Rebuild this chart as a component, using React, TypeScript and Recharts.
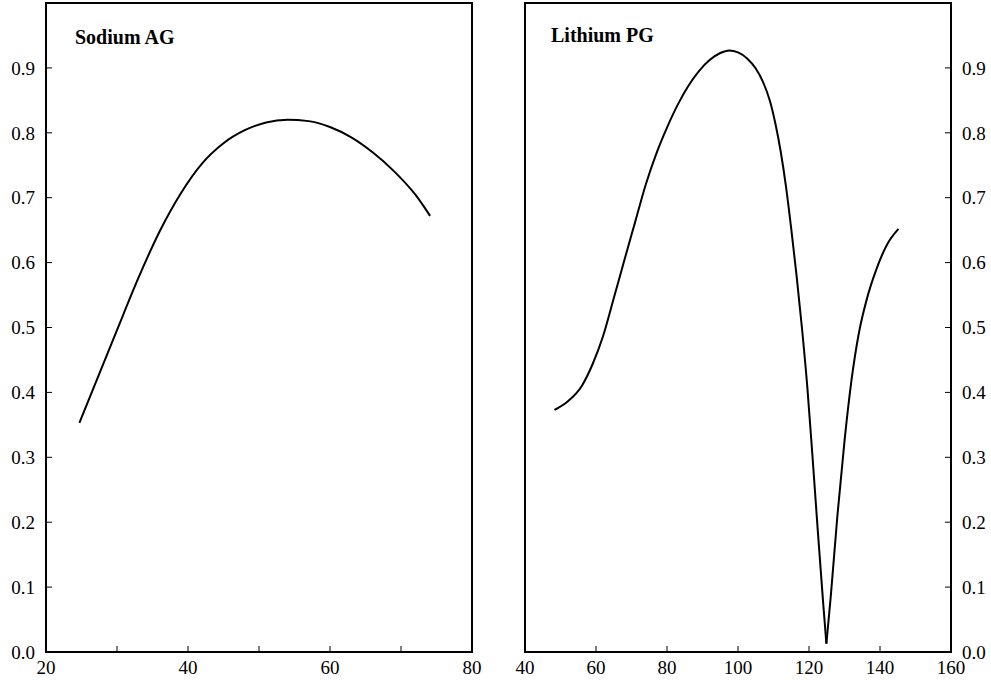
import React from 'react';
import { LineChart, Line, XAxis, YAxis, ReferenceArea } from 'recharts';

const sodiumX = [24.7, 27, 30, 33, 36, 39, 42, 45, 48, 51, 54, 57, 60, 63, 66, 69, 72, 74.1];
const sodiumY = [0.353, 0.415, 0.496, 0.576, 0.648, 0.707, 0.753, 0.784, 0.804, 0.816, 0.820, 0.818, 0.809, 0.793, 0.770, 0.741, 0.705, 0.672];

const lithiumX = [48.3, 52, 56, 59, 62, 65, 68, 71, 74, 77, 80, 83, 86, 89, 92, 95, 97.5, 100, 102.5, 105, 107, 109, 110.5, 112, 113.5, 115, 116.5, 118, 119.5, 121, 122.5, 124, 124.9, 126.2, 128, 130, 132, 134, 136.5, 139, 142, 145.2];
const lithiumY = [0.373, 0.386, 0.41, 0.443, 0.487, 0.545, 0.604, 0.662, 0.72, 0.768, 0.808, 0.843, 0.872, 0.895, 0.912, 0.923, 0.927, 0.924, 0.915, 0.899, 0.879, 0.849, 0.815, 0.772, 0.718, 0.652, 0.580, 0.500, 0.410, 0.300, 0.185, 0.075, 0.013, 0.09, 0.21, 0.325, 0.42, 0.49, 0.548, 0.59, 0.628, 0.652];

const sodiumXTicks = [20, 30, 40, 50, 60, 70, 80];
const sodiumXLabels = [20, 40, 60, 80];
const lithiumXTicks = [40, 60, 80, 100, 120, 140, 160];
const yTicks = [0, 0.1, 0.2, 0.3, 0.4, 0.5, 0.6, 0.7, 0.8, 0.9];
const titles = ['Sodium AG', 'Lithium PG'];

const sodiumData = sodiumX.map((x, i) => ({ x, y: sodiumY[i] }));
const lithiumData = lithiumX.map((x, i) => ({ x, y: lithiumY[i] }));
const minIdx = lithiumY.indexOf(Math.min(...lithiumY));
const lithiumDown = lithiumData.slice(0, minIdx + 1);
const lithiumUp = lithiumData.slice(minIdx);

const FONT = 'Liberation Serif, Times New Roman, serif';
const tickStyle = { fill: '#000', fontSize: 19, fontFamily: FONT };

export default function App() {
  return (
    <div style={{ position: 'absolute', left: 0, top: 0, width: 991, height: 683, background: '#fff' }}>
      <div style={{ position: 'absolute', left: 0, top: 0 }}>
        <LineChart width={500} height={683} margin={{ top: 3, right: 28, left: 0, bottom: 0 }} data={sodiumData}>
          <XAxis
            type="number"
            dataKey="x"
            domain={[20, 80]}
            ticks={sodiumXTicks}
            interval={0}
            height={31}
            tickSize={-6}
            tickMargin={15}
            allowDataOverflow
            tickFormatter={(v: number) => (sodiumXLabels.includes(v) ? String(v) : '')}
            axisLine={{ stroke: '#000', strokeWidth: 2 }}
            tickLine={{ stroke: '#000', strokeWidth: 1 }}
            tick={tickStyle}
          />
          <YAxis
            type="number"
            domain={[0, 1]}
            ticks={yTicks}
            interval={0}
            width={46}
            tickSize={-6}
            tickMargin={17}
            allowDataOverflow
            tickFormatter={(v: number) => v.toFixed(1)}
            axisLine={{ stroke: '#000', strokeWidth: 2 }}
            tickLine={{ stroke: '#000', strokeWidth: 1 }}
            tick={tickStyle}
          />
          <ReferenceArea x1={20} x2={80} y1={0} y2={1} fill="none" fillOpacity={0} stroke="#000" strokeWidth={2} ifOverflow="visible" />
          <Line type="monotone" dataKey="y" stroke="#000" strokeWidth={2} dot={false} activeDot={false} isAnimationActive={false} />
        </LineChart>
      </div>
      <div style={{ position: 'absolute', left: 500, top: 0 }}>
        <LineChart width={491} height={683} margin={{ top: 3, right: 0, left: 25, bottom: 0 }}>
          <XAxis
            type="number"
            dataKey="x"
            domain={[40, 160]}
            ticks={lithiumXTicks}
            interval={0}
            height={31}
            tickSize={-6}
            tickMargin={15}
            allowDataOverflow
            axisLine={{ stroke: '#000', strokeWidth: 2 }}
            tickLine={{ stroke: '#000', strokeWidth: 1 }}
            tick={tickStyle}
          />
          <YAxis
            type="number"
            orientation="right"
            domain={[0, 1]}
            ticks={yTicks}
            interval={0}
            width={40}
            tickSize={-6}
            tickMargin={17}
            allowDataOverflow
            tickFormatter={(v: number) => v.toFixed(1)}
            axisLine={{ stroke: '#000', strokeWidth: 2 }}
            tickLine={{ stroke: '#000', strokeWidth: 1 }}
            tick={tickStyle}
          />
          <ReferenceArea x1={40} x2={160} y1={0} y2={1} fill="none" fillOpacity={0} stroke="#000" strokeWidth={2} ifOverflow="visible" />
          <Line data={lithiumDown} type="monotone" dataKey="y" stroke="#000" strokeWidth={2} dot={false} activeDot={false} isAnimationActive={false} />
          <Line data={lithiumUp} type="monotone" dataKey="y" stroke="#000" strokeWidth={2} dot={false} activeDot={false} isAnimationActive={false} />
        </LineChart>
      </div>
      <svg width={991} height={683} style={{ position: 'absolute', left: 0, top: 0, pointerEvents: 'none' }}>
        <text x={75} y={44} fontFamily={FONT} fontSize={20} fontWeight="bold" fill="#000">{titles[0]}</text>
        <text x={551} y={42} fontFamily={FONT} fontSize={20} fontWeight="bold" fill="#000">{titles[1]}</text>
      </svg>
    </div>
  );
}
